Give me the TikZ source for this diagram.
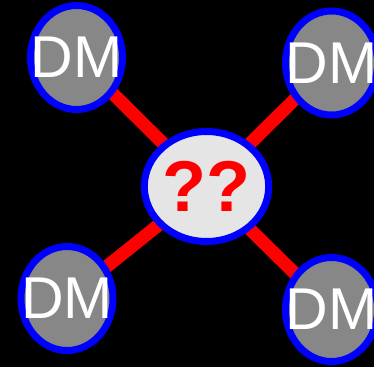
\documentclass[tikz,border=0pt]{standalone}
\usepackage{fontspec}
\setmainfont{Liberation Sans}
\usetikzlibrary{shapes.geometric}
\pgfdeclarelayer{bg}
\pgfdeclarelayer{links}
\pgfsetlayers{bg,links,main}
\begin{document}
\begin{tikzpicture}[
    x=1pt, y=-1pt,
    % Style des noeuds
    dm/.style={
        ellipse,
        draw=blue,
        fill=black!47,
        line width=7pt,
        inner sep=0pt,
        minimum width=92pt,
        minimum height=104pt,
        label={[text=white, font=\fontsize{59}{59}\selectfont]center:DM}
    },
    hub/.style={
        ellipse,
        draw=blue,
        fill=black!10,
        line width=7pt,
        inner sep=0pt,
        minimum width=116pt,
        minimum height=110pt,
        text=red,
        font=\fontsize{72}{72}\selectfont\bfseries
    },
    link/.style={red, line width=13pt}
]

    % --- FOND ---
    \begin{pgfonlayer}{bg}
        \fill[black] (0,0) rectangle (374,367);
    \end{pgfonlayer}
    \useasboundingbox (0,0) rectangle (374,367);

    % --- NOEUDS ---
    \node[hub] (hub) at (206.5,186.5) {??};
    \node[dm] (dmtl) at (76.5,57.5) {};
    \node[dm] (dmtr) at (331.5,63) {};
    \node[dm] (dmbl) at (67,298.5) {};
    \node[dm] (dmbr) at (331.5,309.5) {};

    % --- LIAISONS ---
    \begin{pgfonlayer}{links}
        \foreach \n in {dmtl, dmtr, dmbl, dmbr}
            \draw[link] (hub.center) -- (\n.center);
    \end{pgfonlayer}

\end{tikzpicture}
\end{document}
